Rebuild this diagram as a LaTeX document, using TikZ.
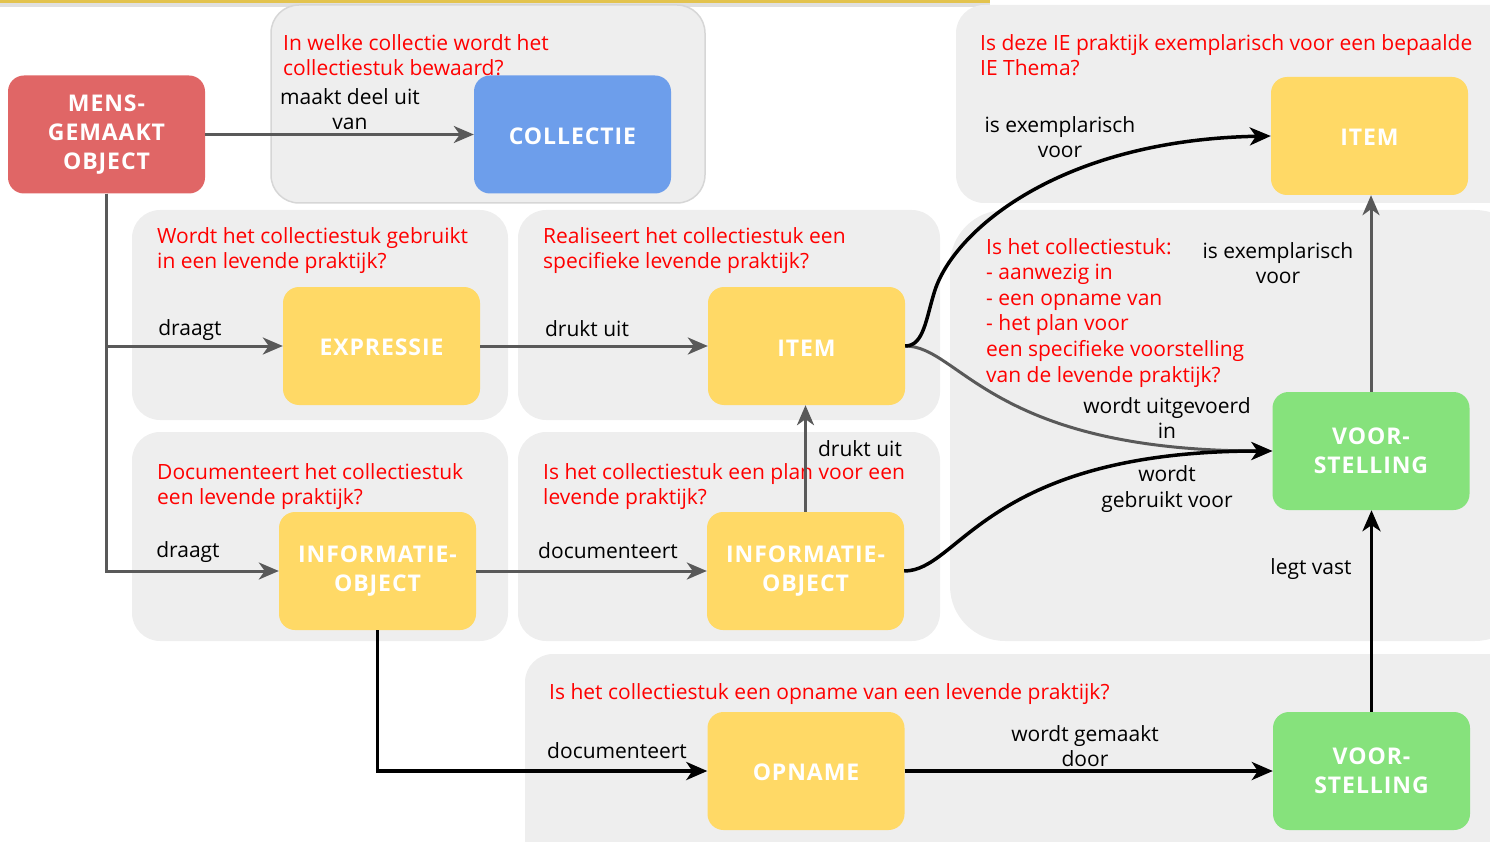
\documentclass[tikz,border=0pt]{standalone}
\usepackage{fontspec}
\setmainfont{Open Sans}
\newfontfamily\boxfont[LetterSpace=4]{Open Sans}
\usetikzlibrary{arrows.meta}
\definecolor{panel}{HTML}{EEEEEE}
\definecolor{panelborder}{HTML}{D6D6D6}
\definecolor{qred}{HTML}{FF0000}
\definecolor{linegray}{HTML}{595959}
\definecolor{cred}{HTML}{E06666}
\definecolor{cblue}{HTML}{6D9EEB}
\definecolor{cyellow}{HTML}{FFD966}
\definecolor{cgreen}{HTML}{86E27C}
\definecolor{topbar}{HTML}{E3C34E}
\tikzset{
  panelbox/.style={fill=panel, rounded corners=28pt},
  obj/.style={rounded corners=16pt, minimum width=197pt, minimum height=118pt, inner sep=0pt,
    text=white, font=\fontsize{23}{29}\selectfont\boxfont\bfseries, align=center,
    execute at begin node={\rule{0pt}{20pt}}},
  objtwo/.style={obj, yshift=-3pt, minimum height=118pt},
  question/.style={text=qred, font=\fontsize{21}{25.6}\selectfont, align=left, anchor=north west, inner sep=0pt},
  lbl/.style={font=\fontsize{21}{25.5}\selectfont, align=center, inner sep=0pt},
  grayarrow/.style={draw=linegray, line width=3pt, -{Stealth[length=20pt,width=17pt,inset=6pt]}},
  blackarrow/.style={draw=black, line width=3.5pt, -{Stealth[length=21pt,width=18pt,inset=6pt]}},
}
\begin{document}
\begin{tikzpicture}[x=1pt,y=-1pt]
\useasboundingbox (0,0) rectangle (1490,842);
\clip (0,0) rectangle (1490,842);
% top bar
\fill[black!12] (0,3) rectangle (990,7);
\fill[topbar] (0,0) rectangle (990,3);
% panels
\filldraw[panelbox, draw=panelborder, line width=1.5pt] (271,5) rectangle (705,203);
\fill[panelbox] (956,5) rectangle (1530,203);
\fill[panelbox] (132,210) rectangle (508,420);
\fill[panelbox] (518,210) rectangle (940,420);
\fill[panelbox] (132,432) rectangle (508,641);
\fill[panelbox] (518,432) rectangle (940,641);
\fill[fill=panel, rounded corners=55pt] (950,210) rectangle (1530,641);
\fill[panelbox] (525,654) rectangle (1530,880);

% questions
\node[question] (q1) at (283,34) {In welke collectie wordt het\\collectiestuk bewaard?};
\node[question] (q2) at (980,34) {Is deze IE praktijk exemplarisch voor een bepaalde\\IE Thema?};
\node[question] (q3) at (157,227) {Wordt het collectiestuk gebruikt\\in een levende praktijk?};
\node[question] (q4) at (543,227) {Realiseert het collectiestuk een\\specifieke levende praktijk?};
\node[question] (q5) at (157,463) {Documenteert het collectiestuk\\een levende praktijk?};
\node[question] (q6) at (543,463) {Is het collectiestuk een plan voor een\\levende praktijk?};
\node[question] (q7) at (986,238) {Is het collectiestuk:\\- aanwezig in\\- een opname van\\- het plan voor\\een specifieke voorstelling\\van de levende praktijk?};
\node[question] (q8) at (549,683) {Is het collectiestuk een opname van een levende praktijk?};

% objects
\node[obj, fill=cred] (mens) at (106.5,134.5) {MENS-\\GEMAAKT\\OBJECT};
\node[obj, fill=cblue] (coll) at (572.5,134.5) {COLLECTIE};
\node[obj, fill=cyellow] (itemT) at (1369.5,136) {ITEM};
\node[obj, fill=cyellow] (expr) at (381.5,346) {EXPRESSIE};
\node[obj, fill=cyellow] (itemM) at (806.5,346) {ITEM};
\node[obj, fill=cyellow] (infoL) at (377.5,571) {INFORMATIE-\\OBJECT};
\node[obj, fill=cyellow] (infoM) at (805.5,571) {INFORMATIE-\\OBJECT};
\node[obj, fill=cgreen] (voorR) at (1371,451) {VOOR-\\STELLING};
\node[obj, fill=cyellow] (opname) at (806,771) {OPNAME};
\node[obj, fill=cgreen] (voorB) at (1371.5,771) {VOOR-\\STELLING};

% connectors
\draw[grayarrow] (mens) -- (coll);
\draw[grayarrow] (mens.south) |- (expr.west);
\draw[grayarrow] (mens.south) |- (infoL.west);
\draw[grayarrow] (expr) -- (itemM);
\draw[grayarrow] (infoL) -- (infoM);
\draw[grayarrow] (infoM.north) -- (infoM.north |- itemM.south);
\draw[blackarrow] (infoL.south) |- (opname.west);
\draw[blackarrow] (opname) -- (voorB);
\draw[blackarrow] (voorB.north) -- (voorB.north |- voorR.south);
\draw[grayarrow] (voorR.north) -- (voorR.north |- itemT.south);
\draw[grayarrow] (itemM.east) .. controls (960,346) and (990,451) .. (voorR.west);
\draw[blackarrow] (infoM.east) .. controls (960,571) and (985,451) .. (voorR.west);
\draw[blackarrow] (itemM.east) .. controls (924,346) and (926,318) .. (935,290)
  .. controls (955,230) and (1060,140) .. (itemT.west);

% labels
\node[lbl] (l1) at (350,109) {maakt deel uit\\van};
\node[lbl] (l2) at (190,330) {draagt};
\node[lbl] (l3) at (188,552) {draagt};
\node[lbl] (l4) at (587,329) {drukt uit};
\node[lbl] (l5) at (608,551) {documenteert};
\node[lbl] (l6) at (860,449) {drukt uit};
\node[lbl] (l7) at (617,751) {documenteert};
\node[lbl] (l8) at (1085,746) {wordt gemaakt\\door};
\node[lbl] (l9) at (1311,569) {legt vast};
\node[lbl] (l10) at (1278,263) {is exemplarisch\\voor};
\node[lbl] (l11) at (1060,137) {is exemplarisch\\voor};
\node[lbl] (l12) at (1167,418) {wordt uitgevoerd\\in};
\node[lbl] (l13) at (1167,489) {wordt\\gebruikt voor};
\end{tikzpicture}
\end{document}
